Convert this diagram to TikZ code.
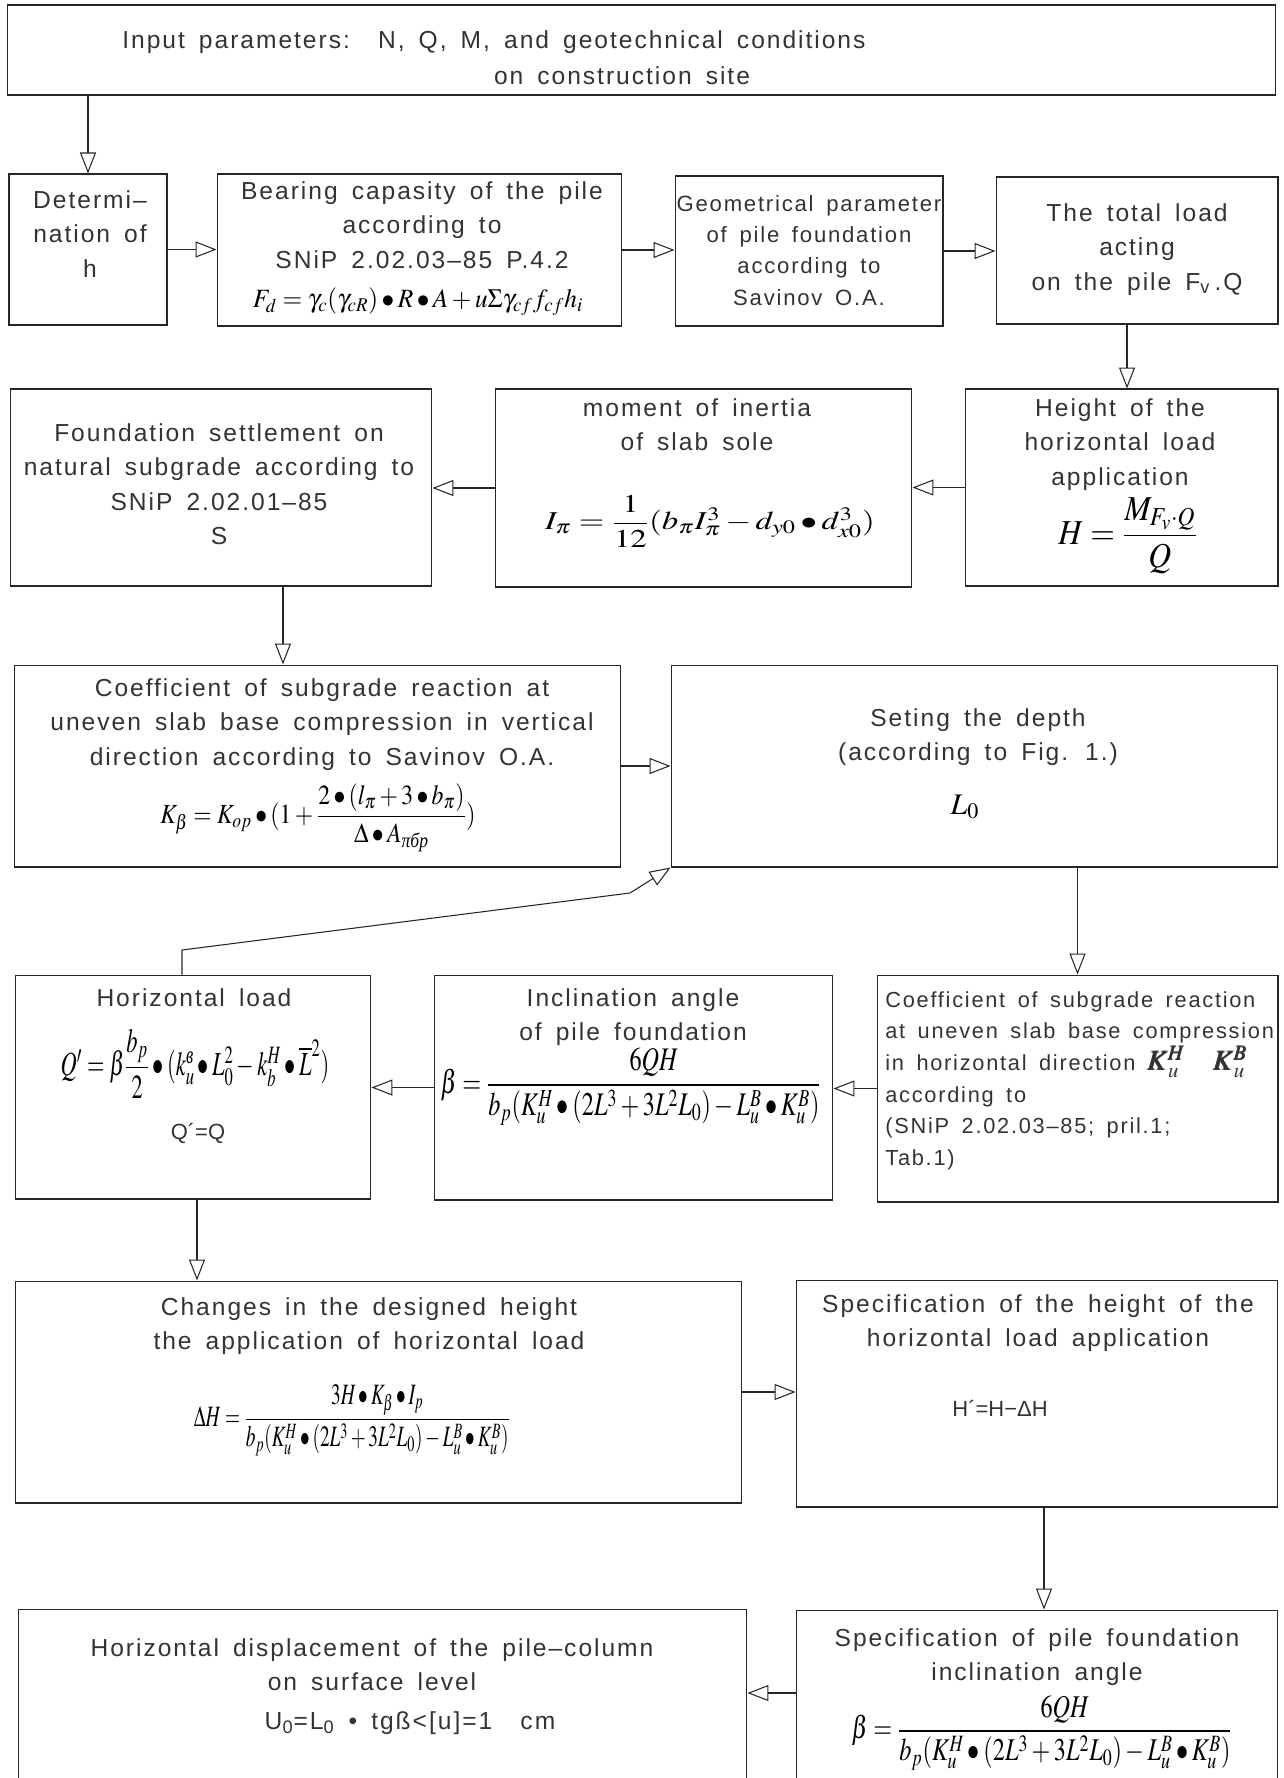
\documentclass[tikz,border=0pt]{standalone}
\usepackage{amsmath}
\usepackage{mathptmx}
\usepackage{fontspec}
\setmainfont{Liberation Sans}[LetterSpace=8,WordSpace=1.6]
\newfontfamily\cyrit{Liberation Serif}
\newfontfamily\tightsans{Liberation Sans}
\usetikzlibrary{arrows.meta,positioning}

\tikzset{
  box/.style={draw=black!85, line width=0.6pt, rectangle, inner sep=0pt},
  lbl/.style={text=black!80, align=center, inner sep=0pt, font=\fontsize{14}{19.6}\selectfont},
  fml/.style={inner sep=0pt, font=\fontsize{15}{18}\selectfont},
  flow/.style={draw=black!85, line width=0.6pt, -{Triangle[open,length=0.42cm,width=0.32cm]}}
}

\begin{document}
\begin{tikzpicture}[x=0.02cm, y=-0.02cm]
\useasboundingbox (0,0) rectangle (1284,1778);
\clip (0,0) rectangle (1284,1778);

% boxes
\node[box, minimum width=25.38cm, minimum height=1.8cm] (inp) at (641.5,50) {};
\node[box, minimum width=3.16cm, minimum height=3.02cm] (det) at (88,249.5) {};
\node[box, minimum width=8.10cm, minimum height=3.04cm] (bear) at (419.5,250) {};
\node[box, minimum width=5.36cm, minimum height=3.00cm] (geo) at (809,251) {};
\node[box, minimum width=5.64cm, minimum height=2.94cm] (tot) at (1137,250.5) {};
\node[box, minimum width=8.44cm, minimum height=3.94cm] (fnd) at (221,487.5) {};
\node[box, minimum width=8.34cm, minimum height=3.96cm] (mom) at (703.5,488) {};
\node[box, minimum width=6.26cm, minimum height=3.94cm] (hgt) at (1121.5,487.5) {};
\node[box, minimum width=12.14cm, minimum height=4.04cm] (cov) at (317.5,766) {};
\node[box, minimum width=12.14cm, minimum height=4.04cm] (set) at (974.5,766) {};
\node[box, minimum width=7.12cm, minimum height=4.48cm] (hl) at (193,1087) {};
\node[box, minimum width=7.98cm, minimum height=4.50cm] (inc) at (633.5,1087.5) {};
\node[box, minimum width=8.02cm, minimum height=4.54cm] (coh) at (1077.5,1088.5) {};
\node[box, minimum width=14.54cm, minimum height=4.44cm] (chg) at (378.5,1392) {};
\node[box, minimum width=9.64cm, minimum height=4.54cm] (sph) at (1037,1393.5) {};
\node[box, minimum width=14.58cm, minimum height=4.42cm] (hdp) at (382.5,1719.5) {};
\node[box, minimum width=9.64cm, minimum height=4.40cm] (spp) at (1037,1720) {};

% texts
\node[lbl, anchor=base west] (inpA) at (122,49) {Input parameters:\ \ N, Q, M, and geotechnical conditions};
\node[lbl, anchor=base] (inpB) at (622,84) {on construction site};
\node[lbl, anchor=north] (detT) at (90,190) {Determi–\\nation of\\h};
\node[lbl, anchor=north] (bearT) at (422,181) {Bearing capasity of the pile\\according to\\SNiP 2.02.03–85 P.4.2};
\node[fml] (bearF) at (418,302) {\scalebox{0.96}[1]{$F_d=\gamma_c(\gamma_{cR})\bullet R\bullet A+u\Sigma\gamma_{cf}f_{cf}h_i$}};
\node[lbl, anchor=north, font=\fontsize{12.6}{17.8}\selectfont] (geoT) at (809,195) {Geometrical parameter\\of pile foundation\\according to\\Savinov O.A.};
\node[lbl, anchor=north] (totT) at (1137,203) {The total load\\acting\\on the pile F\textsubscript{v}\,.Q};
\node[lbl, anchor=north] (fndT) at (219,423) {Foundation settlement on\\natural subgrade according to\\SNiP 2.02.01–85\\S};
\node[lbl, anchor=north] (momT) at (697,398) {moment of inertia\\of slab sole};
\node[fml, font=\fontsize{17}{20}\selectfont] (momF) at (710,521) {\scalebox{1.1}[0.86]{$I_\pi=\dfrac{1}{12}(b_\pi I_\pi^3-d_{y0}\bullet d_{x0}^3)$}};
\node[lbl, anchor=north] (hgtT) at (1120,398) {Height of the\\horizontal load\\application};
\node[fml, font=\fontsize{17}{20}\selectfont] (hgtF) at (1128,536) {\scalebox{1.06}[1.17]{$H=\dfrac{M_{F_v\cdot Q}}{Q}$}};
\node[lbl, anchor=north] (covT) at (322,678) {Coefficient of subgrade reaction at\\uneven slab base compression in vertical\\direction according to Savinov O.A.};
\node[fml] (covF) at (318,818) {\scalebox{0.9}[1.05]{$K_\beta=K_{op}\bullet(1+\dfrac{2\bullet(l_\pi+3\bullet b_\pi)}{\Delta\bullet A_{\text{\cyrit\itshape πбр}}})$}};
\node[lbl, anchor=north] (setT) at (978,708) {Seting the depth\\(according to Fig. 1.)};
\node[fml, font=\fontsize{17}{20}\selectfont] (setF) at (965,807) {$L_0$};
\node[lbl, anchor=north] (hlT) at (194,988) {Horizontal load};
\node[fml] (hlF) at (195,1064) {\scalebox{0.85}[1.28]{$Q'=\beta\dfrac{b_p}{2}\bullet(k_u^{\text{\cyrit\itshape в}}\bullet L_0^2-k_b^H\bullet\overline{L}^2)$}};
\node[lbl, anchor=base, font=\tightsans\fontsize{12.5}{14}\selectfont] (hlQ) at (198,1139) {Q´=Q};
\node[lbl, anchor=north] (incT) at (633,988) {Inclination angle\\of pile foundation};
\node[fml] (incF) at (631,1087) {\scalebox{0.92}[1.25]{$\beta=\dfrac{6QH}{b_p(K_u^H\bullet(2L^3+3L^2L_0)-L_u^B\bullet K_u^B)}$}};
\node[lbl, anchor=north west, align=left, font=\fontsize{12.4}{18}\selectfont] (cohT) at (885,991) {Coefficient of subgrade reaction\\at uneven slab base compression\\in horizontal direction {\fontsize{16}{18}\selectfont$\pmb{K}_u^{\pmb{H}}$\quad$\pmb{K}_u^{\pmb{B}}$}\\according to\\(SNiP 2.02.03–85; pril.1;\\Tab.1)};
\node[lbl, anchor=north] (chgT) at (369,1297) {Changes in the designed height\\the application of horizontal load};
\node[fml] (chgF) at (352,1420) {\scalebox{0.73}[1.12]{$\Delta H=\dfrac{3H\bullet K_\beta\bullet I_p}{b_p(K_u^H\bullet(2L^3+3L^2L_0)-L_u^B\bullet K_u^B)}$}};
\node[lbl, anchor=north] (sphT) at (1038,1294) {Specification of the height of the\\horizontal load application};
\node[lbl, anchor=base, font=\tightsans\fontsize{12.5}{14}\selectfont] (sphH) at (1000,1416) {H´=H−ΔH};
\node[lbl, anchor=north] (hdpT) at (372,1638) {Horizontal displacement of the pile–column\\on surface level};
\node[lbl, anchor=base] (hdpU) at (410,1729) {U\textsubscript{0}=L\textsubscript{0} • tgß<[u]=1 \ cm};
\node[lbl, anchor=north] (sppT) at (1037,1628) {Specification of pile foundation\\inclination angle};
\node[fml] (sppF) at (1042,1733) {\scalebox{0.92}[1.2]{$\beta=\dfrac{6QH}{b_p(K_u^H\bullet(2L^3+3L^2L_0)-L_u^B\bullet K_u^B)}$}};

% connectors
\coordinate (knee) at (182,950);
\coordinate (bend) at (630,893);
\coordinate (lvl) at (0,1693);
\draw[flow] (inp.south -| det.north) -- (det.north);
\draw[flow] (det.east) -- (det.east -| bear.west);
\draw[flow] (bear.east) -- (bear.east -| geo.west);
\draw[flow] (geo.east) -- (geo.east -| tot.west);
\draw[flow] ([xshift=-0.2cm]tot.south) -- ([xshift=-0.2cm]tot.south |- hgt.north);
\draw[flow] (hgt.west) -- (hgt.west -| mom.east);
\draw[flow] (mom.west) -- (mom.west -| fnd.east);
\draw[flow] ([xshift=1.24cm]fnd.south) -- ([xshift=1.24cm]fnd.south |- cov.north);
\draw[flow] (cov.east) -- (cov.east -| set.west);
\draw[flow] (coh.north |- set.south) -- (coh.north);
\draw[flow] (coh.west) -- (coh.west -| inc.east);
\draw[flow] (inc.west) -- (inc.west -| hl.east);
\draw[flow] (knee |- hl.north) -- (knee) -- (bend) -- (set.south west);
\draw[flow] ([xshift=0.08cm]hl.south) -- ([xshift=0.08cm]hl.south |- chg.north);
\draw[flow] (chg.east) -- (chg.east -| sph.west);
\draw[flow] ([xshift=0.14cm]sph.south) -- ([xshift=0.14cm]sph.south |- spp.north);
\draw[flow] (spp.west |- lvl) -- (hdp.east |- lvl);
\end{tikzpicture}
\end{document}
